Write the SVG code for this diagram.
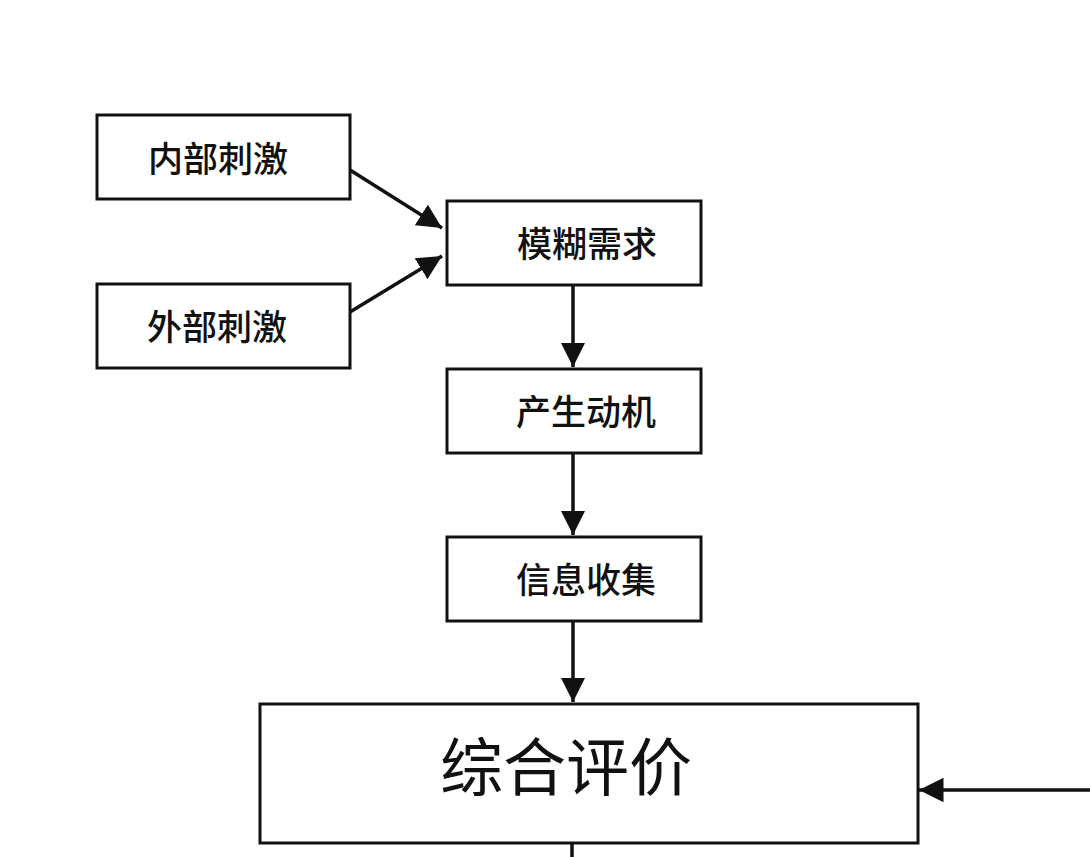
<svg xmlns="http://www.w3.org/2000/svg" width="1090" height="857" viewBox="0 0 1090 857">
<style>
.box{fill:#fff;stroke:#111;stroke-width:3}
.t{font-family:"Noto Sans CJK SC","Noto Sans CJK TC",sans-serif;font-size:35px;font-weight:500;fill:#111;text-anchor:middle;dominant-baseline:central}
.big{font-size:63px;font-weight:400}
.c{stroke:#111;stroke-width:3.5;fill:none}
</style>
<defs>
<marker id="ah" viewBox="0 0 10 10" refX="10" refY="5" markerWidth="7" markerHeight="7" markerUnits="strokeWidth" orient="auto">
<path d="M0,0 L10,5 L0,10 z" fill="#111"/>
</marker>
</defs>
<rect width="1090" height="857" fill="#fff"/>
<g id="connectors">
<line class="c" x1="350" y1="170" x2="442" y2="228" marker-end="url(#ah)"/>
<line class="c" x1="350" y1="312" x2="442" y2="256" marker-end="url(#ah)"/>
<line class="c" x1="573" y1="286" x2="573" y2="367" marker-end="url(#ah)"/>
<line class="c" x1="573" y1="454" x2="573" y2="535" marker-end="url(#ah)"/>
<line class="c" x1="573" y1="622" x2="573" y2="702" marker-end="url(#ah)"/>
<line class="c" x1="572" y1="844" x2="572" y2="857"/>
<line class="c" x1="1090" y1="790" x2="919" y2="790" marker-end="url(#ah)"/>
</g>
<g id="n1"><rect class="box" x="97" y="115" width="253" height="84"/><text class="t" x="218" y="156">内部刺激</text></g>
<g id="n2"><rect class="box" x="97" y="284" width="253" height="84"/><text class="t" x="217" y="324">外部刺激</text></g>
<g id="n3"><rect class="box" x="447" y="201" width="254" height="84"/><text class="t" x="587" y="241">模糊需求</text></g>
<g id="n4"><rect class="box" x="447" y="369" width="254" height="84"/><text class="t" x="586" y="409">产生动机</text></g>
<g id="n5"><rect class="box" x="447" y="537" width="254" height="84"/><text class="t" x="586" y="577">信息收集</text></g>
<g id="n6"><rect class="box" x="260" y="704" width="658" height="139"/><text class="t big" x="566" y="762">综合评价</text></g>
</svg>
